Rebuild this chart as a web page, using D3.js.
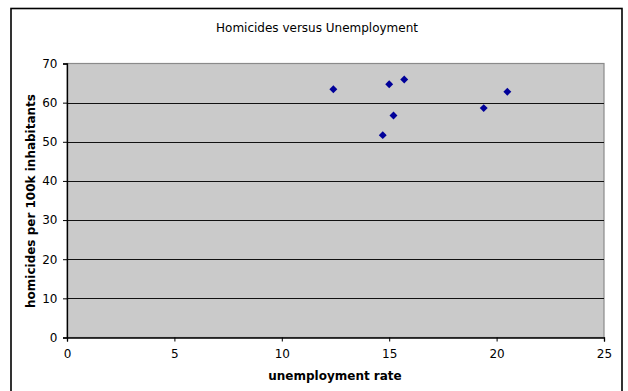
<!DOCTYPE html>
<html>
<head>
<meta charset="utf-8">
<script src="https://cdn.jsdelivr.net/npm/d3@7"></script>
<style>
  html, body { margin: 0; padding: 0; background: #fff; }
  svg { display: block; }
  text { font-family: "DejaVu Sans", Verdana, sans-serif; fill: #000; }
</style>
</head>
<body>
<svg id="chart" width="628" height="391"></svg>
<script>
// Unemployment rate (%) and homicides per 100k inhabitants
const unemployment = [12.4, 15.0, 15.7, 20.5, 19.4, 15.2, 14.7];
const homicides    = [63.4, 64.7, 65.9, 62.8, 58.6, 56.7, 51.7];
const xTicks = [0, 5, 10, 15, 20, 25];
const yTicks = [0, 10, 20, 30, 40, 50, 60, 70];

const svg = d3.select("#chart");
const plot = { left: 67, right: 604, top: 63.5, bottom: 337.5 };

const x = d3.scaleLinear().domain([0, 25]).range([plot.left, plot.right]);
const y = d3.scaleLinear().domain([0, 70]).range([plot.bottom, plot.top]);

// chart frame
svg.append("rect")
  .attr("x", 11).attr("y", 8.5).attr("width", 611).attr("height", 400)
  .attr("fill", "#fff").attr("stroke", "#000").attr("stroke-width", 1.6);

// plot area
svg.append("rect")
  .attr("x", plot.left).attr("y", plot.top)
  .attr("width", plot.right - plot.left).attr("height", plot.bottom - plot.top)
  .attr("fill", "#cacaca").attr("stroke", "#8a8a8a").attr("stroke-width", 1.2);

// horizontal gridlines
svg.append("g")
  .selectAll("line")
  .data(yTicks.filter(d => d > 0 && d < 70))
  .join("line")
  .attr("x1", plot.left).attr("x2", plot.right)
  .attr("y1", d => Math.round(y(d)) + 0.5).attr("y2", d => Math.round(y(d)) + 0.5)
  .attr("stroke", "#111").attr("stroke-width", 1);

// axes
const xAxis = svg.append("g")
  .attr("transform", `translate(0,${plot.bottom})`)
  .call(d3.axisBottom(x).tickValues(xTicks).tickSize(4).tickPadding(8).tickFormat(d3.format("d")));
const yAxis = svg.append("g")
  .attr("transform", `translate(${plot.left},0)`)
  .call(d3.axisLeft(y).tickValues(yTicks).tickSize(4).tickPadding(5.5).tickFormat(d3.format("d")));

[xAxis, yAxis].forEach(g => {
  g.select(".domain").attr("stroke", "#000").attr("stroke-width", 1.3);
  g.selectAll(".tick line").attr("stroke", "#000");
  g.selectAll("text").attr("font-size", 12).attr("font-family", "DejaVu Sans, Verdana, sans-serif").attr("fill", "#000");
});

// data points as diamonds
svg.append("g")
  .selectAll("path")
  .data(unemployment.map((u, i) => [u, homicides[i]]))
  .join("path")
  .attr("transform", d => `translate(${x(d[0])},${y(d[1])})`)
  .attr("d", d3.symbol().type(d3.symbolDiamond2).size(40))
  .attr("fill", "#000099");

// titles
svg.append("text")
  .attr("x", 317).attr("y", 32)
  .attr("text-anchor", "middle").attr("font-size", 12)
  .text("Homicides versus Unemployment");

svg.append("text")
  .attr("x", 335).attr("y", 380)
  .attr("text-anchor", "middle").attr("font-size", 12).attr("font-weight", "bold")
  .text("unemployment rate");

svg.append("text")
  .attr("transform", `translate(35,201) rotate(-90)`)
  .attr("text-anchor", "middle").attr("font-size", 12).attr("font-weight", "bold")
  .text("homicides per 100k inhabitants");
</script>
</body>
</html>
